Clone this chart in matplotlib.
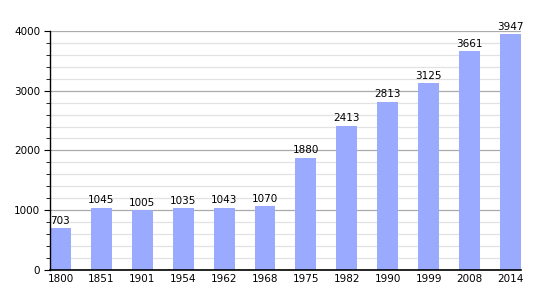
import matplotlib.pyplot as plt
from matplotlib.ticker import MultipleLocator

years = ["1800", "1851", "1901", "1954", "1962", "1968", "1975", "1982",
         "1990", "1999", "2008", "2014"]
population = [703, 1045, 1005, 1035, 1043, 1070, 1880, 2413, 2813, 3125, 3661, 3947]

fig = plt.figure(figsize=(5.5, 3), dpi=100)
ax = fig.add_axes([0.091, 0.1, 0.856, 0.797])

x = range(len(years))
bars = ax.bar(x, population, width=0.51, color="#99aaff", zorder=2)

for xi, v in zip(x, population):
    ax.text(xi, v + 40, str(v), ha="center", va="bottom", fontsize=7.5)

ax.set_xlim(-0.255, len(years) - 1 + 0.255)
ax.set_ylim(0, 4000)
ax.set_xticks(list(x))
ax.set_xticklabels(years)
ax.yaxis.set_major_locator(MultipleLocator(1000))
ax.yaxis.set_minor_locator(MultipleLocator(200))
ax.grid(axis="y", which="major", color="#aaaaaa", linewidth=0.9, zorder=0)
ax.grid(axis="y", which="minor", color="#e2e2e2", linewidth=0.9, zorder=0)
ax.tick_params(axis="x", length=0, labelsize=7.5, pad=3)
ax.tick_params(axis="y", which="major", length=4, labelsize=7.5, pad=3)
ax.tick_params(axis="y", which="minor", length=3)

for s in ["top", "right"]:
    ax.spines[s].set_visible(False)
ax.spines["left"].set_linewidth(1.0)
ax.spines["bottom"].set_linewidth(1.2)

fig.savefig("out.png", dpi=100)
